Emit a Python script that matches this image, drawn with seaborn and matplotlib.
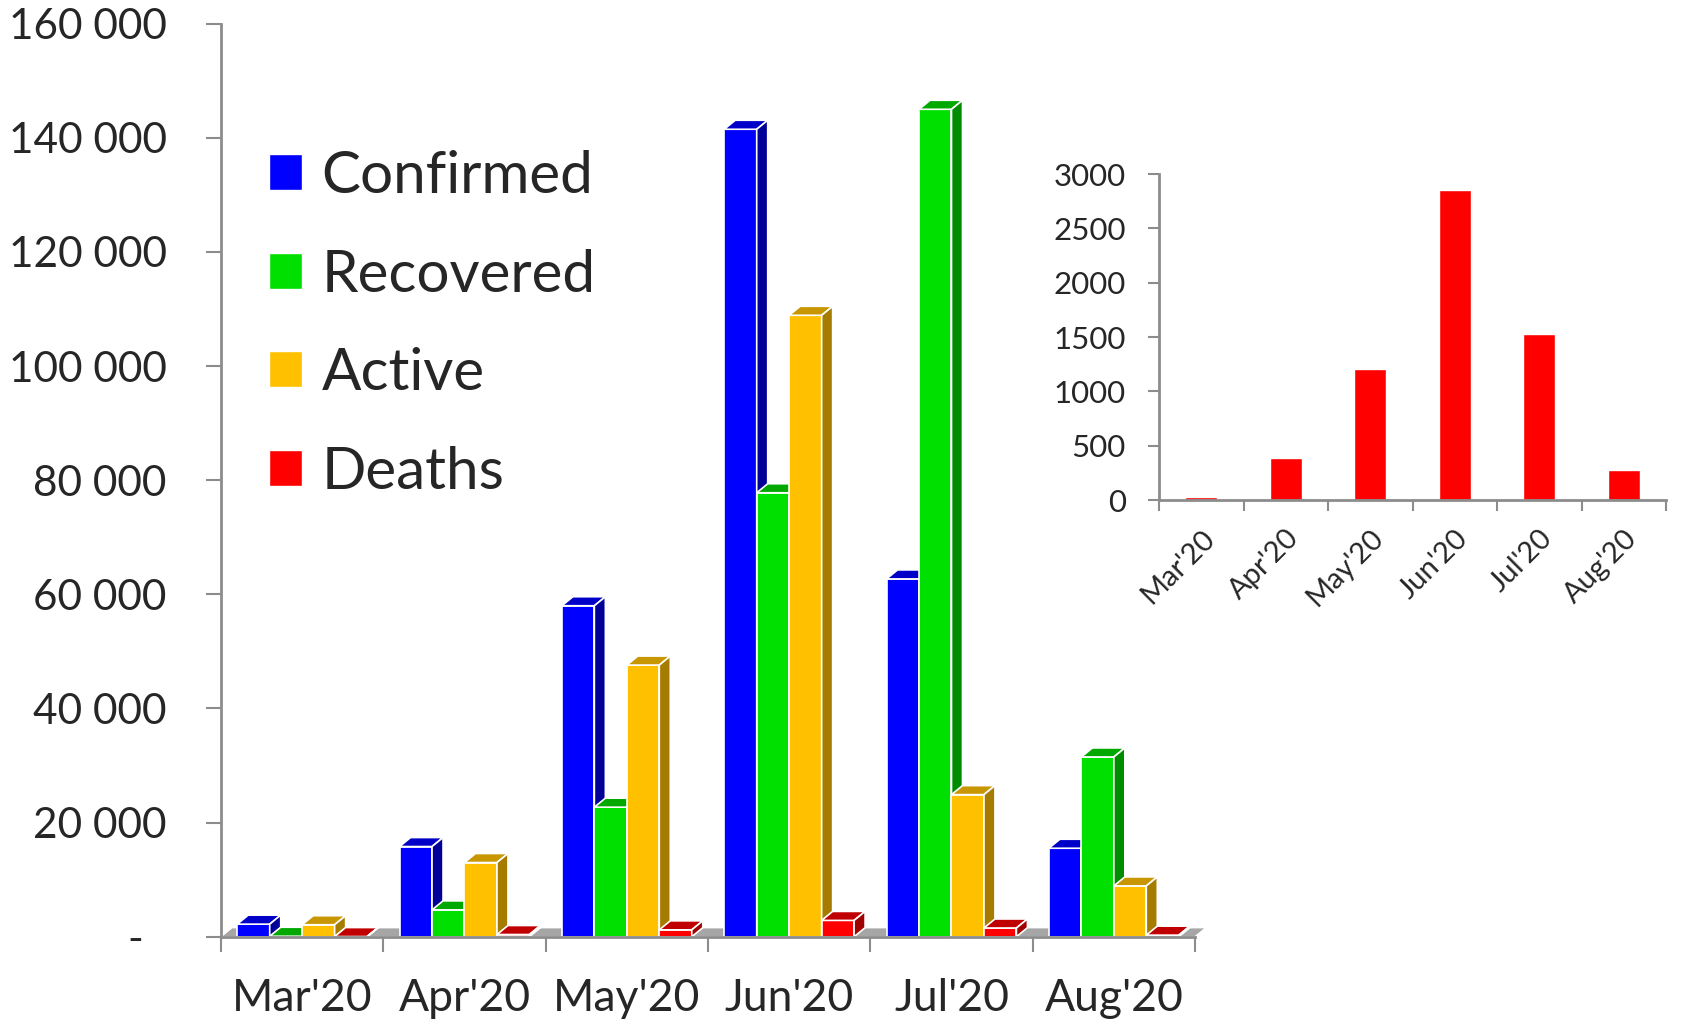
import matplotlib
matplotlib.use("Agg")
import matplotlib.pyplot as plt
import matplotlib.transforms as mtransforms
from matplotlib.patches import Polygon
import seaborn as sns
import numpy as np
import pandas as pd

# data
months = ["Mar'20", "Apr'20", "May'20", "Jun'20", "Jul'20", "Aug'20"]
confirmed = [2200, 15800, 58000, 141500, 62700, 15500]
recovered = [80, 4700, 22700, 77800, 145000, 31500]
active = [2100, 13000, 47600, 108900, 24900, 8900]
deaths = [26, 384, 1203, 2853, 1525, 273]
series = ["Confirmed", "Recovered", "Active", "Deaths"]

front_colors = ["#0000FF", "#00E000", "#FFC000", "#FF0000"]
top_colors = ["#0000C8", "#00A800", "#C89600", "#C00000"]
side_colors = ["#000099", "#008C00", "#A67C00", "#A00000"]
axis_gray = "#8C8C8C"

df = pd.DataFrame({
    "month": np.tile(months, 4),
    "value": confirmed + recovered + active + deaths,
    "series": np.repeat(series, len(months)),
})
df_deaths = pd.DataFrame({"month": months, "deaths": deaths})

sns.set_style("white")
plt.rcParams["font.family"] = ["Lato", "DejaVu Sans"]

W, H = 1688, 1022
fig = plt.figure(figsize=(W / 100, H / 100), dpi=100)

# main chart
y0, y1 = 936.7, 23.7
ax = fig.add_axes([221 / W, (H - y0) / H, (1195 - 221) / W, (y0 - y1) / H])
sns.barplot(data=df, x="month", y="value", hue="series", hue_order=series,
            palette=front_colors, order=months, errorbar=None, width=0.8,
            saturation=1, ax=ax)
ax.set_xlim(-0.5, 5.5)
ax.set_ylim(0, 160000)

# pseudo-3D depth, in data units
dx = 11 / ((1195 - 221) / 6)
dy = 9 * 160000 / (y0 - y1)

floor = Polygon([(-0.5, 0), (5.5, 0), (5.5 + dx, dy), (-0.5 + dx, dy)],
                fc="#A6A6A6", ec="white", lw=1, zorder=2, clip_on=False)
ax.add_patch(floor)

bars = []
for ci, cont in enumerate(ax.containers):
    for rect in cont:
        bars.append((rect.get_x(), rect, ci))
bars.sort(key=lambda t: t[0])
for k, (x0, rect, ci) in enumerate(bars):
    w = rect.get_width()
    h = rect.get_height()
    z = 3 + 3 * k
    rect.set_zorder(z)
    rect.set_edgecolor("white")
    rect.set_linewidth(1.2)
    top = Polygon([(x0, h), (x0 + w, h), (x0 + w + dx, h + dy), (x0 + dx, h + dy)],
                  fc=top_colors[ci], ec="white", lw=1.2, zorder=z + 1, clip_on=False)
    side = Polygon([(x0 + w, 0), (x0 + w + dx, dy), (x0 + w + dx, h + dy), (x0 + w, h)],
                   fc=side_colors[ci], ec="white", lw=1.2, zorder=z + 2, clip_on=False)
    ax.add_patch(top)
    ax.add_patch(side)

sns.despine(ax=ax)
for s in ["left", "bottom"]:
    ax.spines[s].set_color(axis_gray)
    ax.spines[s].set_linewidth(2)
ax.spines["bottom"].set_zorder(200)

yt = np.arange(0, 160001, 20000)
ax.set_yticks(yt)
ax.set_yticklabels(["-" if v == 0 else f"{v:,}".replace(",", " ") for v in yt])
ax.tick_params(axis="y", which="major", length=11, width=1.5, color=axis_gray,
               direction="out", pad=28, labelsize=30.5, left=True)
lab0 = ax.get_yticklabels()[0]
lab0.set_transform(lab0.get_transform() +
                   mtransforms.ScaledTranslation(-24 / 100, 0, fig.dpi_scale_trans))

ax.set_xticks(np.arange(-0.5, 6, 1))
ax.set_xticklabels([])
ax.set_xticks(np.arange(6), minor=True)
ax.set_xticklabels(months, minor=True)
ax.tick_params(axis="x", which="major", length=11, width=1.5, color=axis_gray,
               direction="out", bottom=True)
ax.tick_params(axis="x", which="minor", length=0, pad=30, labelsize=32)
ax.set_xlabel("")
ax.set_ylabel("")

sns.move_legend(ax, loc="upper left", bbox_to_anchor=(269 / W, 1 - 150 / H),
                bbox_transform=fig.transFigure, title=None, frameon=False,
                fontsize=42, handlelength=0.57, handleheight=0.57,
                handletextpad=0.33, labelspacing=0.78, borderpad=0,
                borderaxespad=0)

# inset with deaths only
iy0, iy1 = 500, 174
ins = fig.add_axes([1159 / W, (H - iy0) / H, (1666 - 1159) / W, (iy0 - iy1) / H])
sns.barplot(data=df_deaths, x="month", y="deaths", color="#FF0000",
            saturation=1, width=0.375, errorbar=None, ax=ins)
ins.set_xlim(-0.5, 5.5)
ins.set_ylim(0, 3000)
sns.despine(ax=ins)
for s in ["left", "bottom"]:
    ins.spines[s].set_color(axis_gray)
    ins.spines[s].set_linewidth(2)
ins.set_yticks(np.arange(0, 3001, 500))
ins.tick_params(axis="y", length=8, width=1.5, color=axis_gray, direction="out",
                pad=16, labelsize=22.5, left=True)
ins.set_xticks(np.arange(-0.5, 6, 1))
ins.set_xticklabels([])
ins.set_xticks(np.arange(6), minor=True)
ins.set_xticklabels(months, minor=True, rotation=45, ha="right",
                    rotation_mode="anchor")
ins.tick_params(axis="x", which="major", length=8, width=1.5, color=axis_gray,
                direction="out", bottom=True)
ins.tick_params(axis="x", which="minor", length=0, pad=18, labelsize=21)
ins.set_xlabel("")
ins.set_ylabel("")
ins.patch.set_alpha(0)

fig.savefig("out.png", dpi=100)
